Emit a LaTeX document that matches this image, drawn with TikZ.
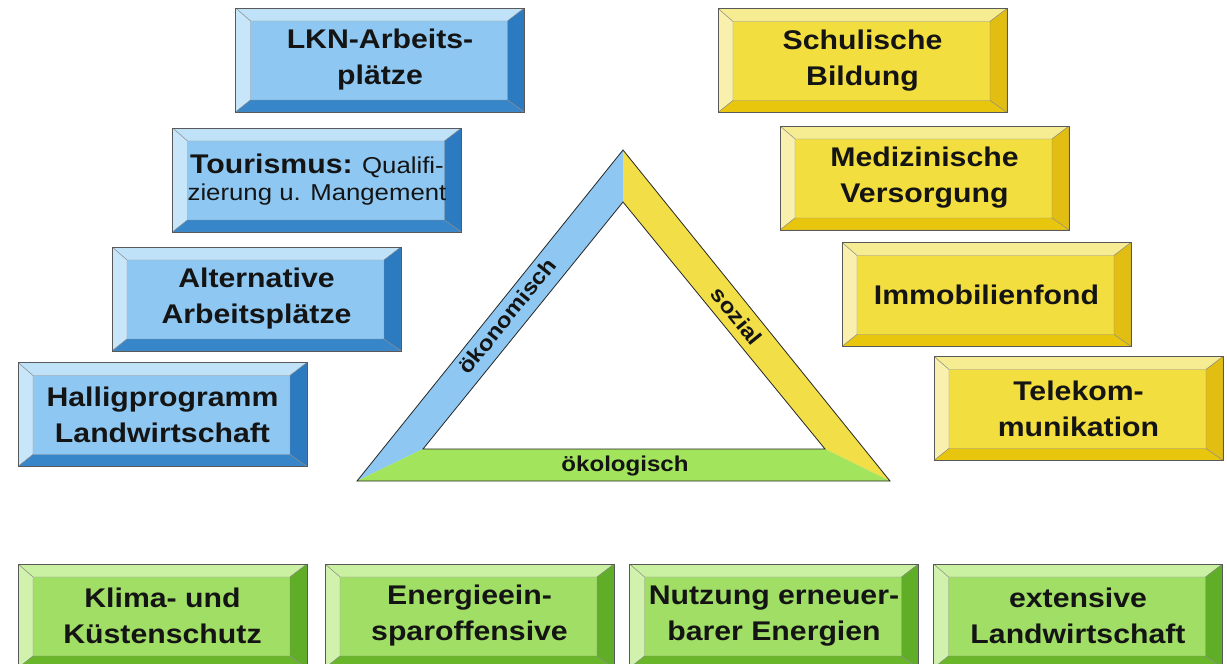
\documentclass[tikz,border=0pt]{standalone}
\usepackage{fontspec}
\setmainfont{Liberation Sans}[FakeStretch=1.12]
\usetikzlibrary{calc}
\definecolor{bface}{RGB}{142,200,242}
\definecolor{btop}{RGB}{192,226,248}
\definecolor{bleft}{RGB}{200,230,249}
\definecolor{bright}{RGB}{44,122,192}
\definecolor{bbot}{RGB}{56,134,202}
\definecolor{yface}{RGB}{242,222,62}
\definecolor{ytop}{RGB}{246,236,145}
\definecolor{yleft}{RGB}{248,240,172}
\definecolor{yright}{RGB}{226,190,18}
\definecolor{ybot}{RGB}{233,198,14}
\definecolor{gface}{RGB}{160,222,102}
\definecolor{gtop}{RGB}{202,240,162}
\definecolor{gleft}{RGB}{208,242,172}
\definecolor{gright}{RGB}{96,174,40}
\definecolor{gbot}{RGB}{106,182,42}
\definecolor{tblue}{RGB}{142,200,242}
\definecolor{tyellow}{RGB}{242,222,70}
\definecolor{tgreen}{RGB}{162,228,92}
\definecolor{ink}{RGB}{20,20,20}
\tikzset{
  bevel/.style n args={5}{fill=#1, draw=black!65, line width=0.5pt,
    minimum width=289pt, minimum height=104pt, inner sep=0pt, align=center,
    font=\fontsize{27}{36}\selectfont\bfseries, text=ink,
    path picture={
      \coordinate (@nw) at (path picture bounding box.north west);
      \coordinate (@ne) at (path picture bounding box.north east);
      \coordinate (@sw) at (path picture bounding box.south west);
      \coordinate (@se) at (path picture bounding box.south east);
      \filldraw[#2, draw=black!45, line width=0.4pt] (@nw) -- (@ne) -- ($(@ne)+(-17,13)$) -- ($(@nw)+(15,13)$) -- cycle;
      \filldraw[#3, draw=black!45, line width=0.4pt] (@nw) -- ($(@nw)+(15,13)$) -- ($(@sw)+(15,-12)$) -- (@sw) -- cycle;
      \filldraw[#4, draw=black!45, line width=0.4pt] (@ne) -- (@se) -- ($(@se)+(-17,-12)$) -- ($(@ne)+(-17,13)$) -- cycle;
      \filldraw[#5, draw=black!45, line width=0.4pt] (@sw) -- (@se) -- ($(@se)+(-17,-12)$) -- ($(@sw)+(15,-12)$) -- cycle;
    }},
  bluebox/.style={bevel={bface}{btop}{bleft}{bright}{bbot}},
  yellowbox/.style={bevel={yface}{ytop}{yleft}{yright}{ybot}},
  greenbox/.style={bevel={gface}{gtop}{gleft}{gright}{gbot}},
  tlabel/.style={font=\fontsize{21.5}{24}\selectfont\bfseries, text=ink, inner sep=0pt},
  edge/.style={draw=black!85, line width=0.8pt, line join=miter},
}
\begin{document}
\begin{tikzpicture}[x=1pt,y=-1pt]
\fill[white] (0,0) rectangle (1227,664);
\useasboundingbox (0,0) rectangle (1227,664);

% blue boxes
\node[bluebox] (lkn) at (380,60) {LKN-Arbeits-\\plätze};
\node[bluebox, font=\fontsize{23}{27}\selectfont] (tour) at (317,180)
  {{\fontsize{27}{27}\selectfont\bfseries Tourismus:} Qualifi-\\zierung u. Mangement};
\node[bluebox] (alt) at (256.5,299) {Alternative\\Arbeitsplätze};
\node[bluebox] (hallig) at (162.5,414.5) {Halligprogramm\\Landwirtschaft};

% yellow boxes
\node[yellowbox] (schul) at (862.5,60.5) {Schulische\\Bildung};
\node[yellowbox] (med) at (924.5,178) {Medizinische\\Versorgung};
\node[yellowbox] (immo) at (986.5,294.5) {Immobilienfond};
\node[yellowbox] (tele) at (1078.5,408.5) {Telekom-\\munikation};

% green boxes
\node[greenbox] (klima) at (162.5,616) {Klima- und\\Küstenschutz};
\node[greenbox] (energie) at (469.5,616) {Energieein-\\sparoffensive};
\node[greenbox] (nutzung) at (774,616) {Nutzung erneuer-\\barer Energien};
\node[greenbox] (ext) at (1078,616) {extensive\\Landwirtschaft};

% triangle
\coordinate (A) at (623,150);
\coordinate (L) at (357,481);
\coordinate (R) at (890,481);
\coordinate (a) at (623,202);
\coordinate (l) at (423,449);
\coordinate (r) at (825,449);
\fill[tblue] (A) -- (a) -- (l) -- (L) -- cycle;
\fill[tyellow] (A) -- (R) -- (r) -- (a) -- cycle;
\fill[tgreen] (L) -- (l) -- (r) -- (R) -- cycle;
\draw[edge] (A) -- (L) -- (R) -- cycle;
\draw[edge] (a) -- (l) -- (r) -- cycle;

\node[tlabel, rotate=51] (oekon) at (507,316) {ökonomisch};
\node[tlabel, rotate=-51] (sozial) at (737,316) {sozial};
\node[tlabel] (oekol) at (625,466) {ökologisch};
\end{tikzpicture}
\end{document}
